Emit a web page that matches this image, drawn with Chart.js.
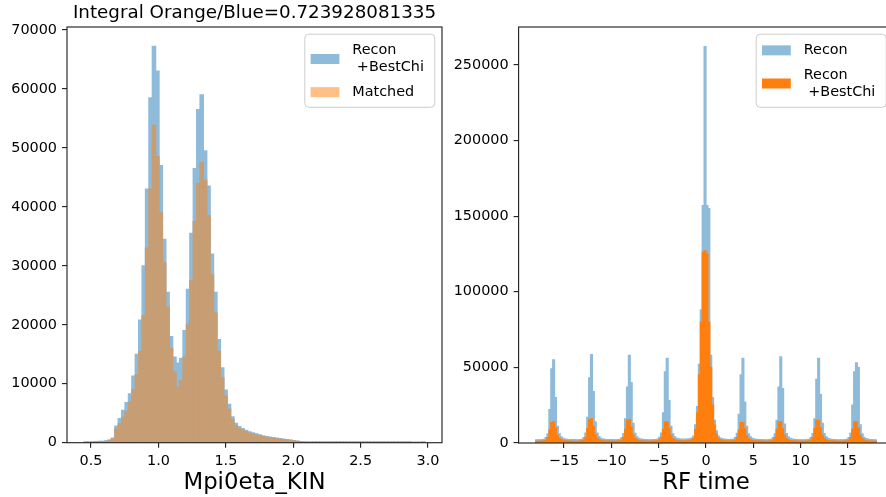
<!DOCTYPE html>
<html><head><meta charset="utf-8">
<script src="https://cdn.jsdelivr.net/npm/chart.js@4.4.1/dist/chart.umd.min.js"></script>
<style>
html,body{margin:0;padding:0;background:#fff;overflow:hidden;width:886px;height:497px;}
#w1{position:absolute;left:0;top:0;width:450px;height:497px;}
#w2{position:absolute;left:450px;top:0;width:450px;height:497px;}
</style></head><body>
<div id="w1"><canvas id="c1" width="450" height="497"></canvas></div>
<div id="w2"><canvas id="c2" width="450" height="497"></canvas></div>
<script>
// ---------- Left panel: Mpi0eta_KIN histogram (100 bins) ----------
const massBinStart = 0.448;
const massBinWidth = 0.0253;
const massRecon = [
  40, 60, 150, 200, 220, 250, 300, 450, 800, 2800,
  4100, 5500, 6800, 8300, 11300, 15000, 20800, 30000, 43000, 58500,
  67200, 63000, 47000, 34500, 25500, 18000, 14500, 13500, 14300, 19000,
  26000, 35500, 46500, 56500, 59000, 49500, 43500, 32000, 25500, 17500,
  12700, 8900, 6500, 4400, 3300, 2750, 2400, 2100, 1850, 1650,
  1480, 1320, 1180, 1050, 950, 850, 760, 680, 600, 520,
  440, 360, 280, 200, 140, 90, 60, 40, 30, 20,
  18, 15, 12, 10, 9, 8, 7, 6, 5, 5,
  4, 4, 3, 3, 3, 2, 2, 2, 2, 2,
  1, 1, 1, 1, 1, 1, 1, 1, 1, 1
];
const massMatched = [
  30, 50, 120, 160, 180, 200, 240, 380, 650, 2300,
  3200, 4300, 5300, 6900, 9000, 11500, 15500, 21500, 33000, 43000,
  53800, 48500, 39000, 30500, 23000, 16000, 12000, 9400, 10500, 14500,
  20000, 27500, 37500, 44000, 47500, 44500, 38500, 28500, 22000, 15500,
  11000, 7900, 5700, 3900, 2900, 2400, 2100, 1850, 1620, 1450,
  1300, 1160, 1040, 930, 830, 750, 670, 600, 530, 460,
  390, 320, 250, 180, 120, 80, 50, 35, 25, 18,
  15, 12, 10, 8, 7, 6, 5, 5, 4, 4,
  3, 3, 2, 2, 2, 2, 1, 1, 1, 1,
  1, 1, 1, 1, 1, 1, 0, 0, 0, 1
];
const massTicksX = [0.5, 1.0, 1.5, 2.0, 2.5, 3.0];
const massTicksY = [0, 10000, 20000, 30000, 40000, 50000, 60000, 70000];
const massLabels = ['Recon\n +BestChi', 'Matched'];
const massTitle = 'Integral Orange/Blue=0.723928081335';
const massXLabel = 'Mpi0eta_KIN';

// ---------- Right panel: RF time histogram (0.2 ns bins, -18..18) ----------
const rfBinStart = -18;
const rfBinWidth = 0.2;
const rfRecon = [
  2000,2100,2050,2200,2400, 3500,6000,22000,49000,55000, 30000,11000,6000,4000,3000, 2600,2400,2300,2200,2200,
  2200,2150,2100,2250,2450, 3600,6500,17000,43000,58500, 34000,14000,6500,4200,3100, 2600,2400,2300,2250,2200,
  2200,2100,2150,2200,2400, 3500,6200,16000,37000,58000, 40000,13000,6300,4100,3000, 2600,2450,2300,2200,2150,
  2150,2200,2250,2300,2500, 3700,6500,20000,47000,56000, 28000,11000,6000,4000,3000, 2700,2500,2400,2400,2500,
  2600,2800,3200,4500,12000, 24000,52000,88000,157000,262000, 157000,155000,58000,30000,15000, 8000,4500,3200,2800,2600,
  2400,2300,2300,2350,2450, 3600,6300,19000,45000,56000, 27000,11000,6000,4000,3000, 2600,2400,2300,2200,2200,
  2150,2100,2150,2200,2400, 3500,6000,15000,37000,57000, 36000,12500,6200,4000,3000, 2600,2400,2300,2200,2150,
  2150,2100,2100,2200,2400, 3500,6200,16000,42000,56000, 32000,13000,6200,4000,3000, 2600,2400,2300,2200,2100,
  2100,2100,2100,2200,2400, 3500,6300,25000,47000,53000, 50000,12000,6000,3800,2900, 2500,2300,2200,2100,2000
];
const rfBestChi = [
  1100,1150,1100,1200,1300, 1800,3500,8500,13500,14000, 10000,5000,3000,2200,1600, 1400,1300,1250,1200,1150,
  1150,1100,1150,1200,1350, 1900,3800,9500,15500,16000, 11000,5500,3200,2300,1700, 1400,1300,1250,1200,1150,
  1150,1150,1100,1200,1300, 1900,3700,9000,15000,15500, 10500,5200,3100,2200,1600, 1400,1300,1250,1200,1150,
  1150,1200,1200,1250,1400, 2000,3800,9000,14000,14000, 9500,5000,3000,2200,1700, 1500,1400,1350,1400,1500,
  1500,1700,2000,3000,9000, 20000,45000,80000,126000,127000, 125000,80000,50000,25000,12000, 6000,3000,2000,1700,1500,
  1400,1300,1300,1300,1400, 1900,3600,8500,13500,13500, 9500,4800,2900,2100,1600, 1400,1300,1250,1200,1200,
  1150,1150,1150,1200,1300, 1900,3600,9000,14000,14000, 9500,5000,3000,2100,1600, 1400,1300,1250,1200,1150,
  1150,1100,1100,1200,1300, 1900,3700,9500,15000,15000, 10000,5200,3000,2100,1600, 1400,1300,1250,1200,1150,
  1100,1100,1100,1200,1300, 1900,3600,9000,14000,14000, 10000,5000,2900,2000,1500, 1300,1200,1150,1100,1050
];
const rfTicksX = [-15, -10, -5, 0, 5, 10, 15];
const rfTicksY = [0, 50000, 100000, 150000, 200000, 250000];
const rfLabels = ['Recon', 'Recon\n +BestChi'];
const rfXLabel = 'RF time';

// ---------- colours (matplotlib C0/C1, alpha 0.5 flattened on white) ----------
const FONT = '"DejaVu Sans", "Liberation Sans", sans-serif';
const BLUE_HALF = 'rgb(143,187,218)';       // C0 at alpha 0.5 on white
const ORANGE_HALF = 'rgb(255,191,135)';     // C1 at alpha 0.5 on white
const ORANGE_ON_BLUE = 'rgb(199,157,116)';  // C1 alpha 0.5 over C0 alpha 0.5
const ORANGE = 'rgb(255,127,14)';

function histDataset(label, start, width, counts, color, legendColor, order) {
  return {
    label, legendColor, order,
    data: counts.map((c, i) => ({x: start + (i + 0.5) * width, y: c})),
    backgroundColor: color, borderWidth: 0, grouped: false,
    barPercentage: 1, categoryPercentage: 1, inflateAmount: 0.6
  };
}
function tickSetter(list) { return s => { s.ticks = list.map(v => ({value: v})); }; }

const mplDecor = {
  id: 'mplDecor',
  afterDraw(chart) {
    const {ctx, chartArea: a} = chart;
    ctx.save();
    ctx.strokeStyle = '#262626'; ctx.lineWidth = 1.15;
    ctx.strokeRect(a.left, a.top, a.right - a.left, a.bottom - a.top);
    const lh = 17.3, w = 130, padT = 7.5, padB = 6.5, gap = 7.2;
    const items = chart.data.datasets.map(d => ({lines: d.label.split('\n'), color: d.legendColor}));
    let h = padT + padB;
    items.forEach((it, i) => { h += it.lines.length * lh + (i ? gap : 0); });
    const x0 = a.right - 7.2 - w, y0 = a.top + 7.2;
    ctx.beginPath();
    ctx.roundRect(x0, y0, w, h, 4);
    ctx.fillStyle = 'rgba(255,255,255,0.8)'; ctx.fill();
    ctx.strokeStyle = '#cccccc'; ctx.lineWidth = 1; ctx.stroke();
    ctx.font = '14.4px ' + FONT; ctx.textBaseline = 'middle'; ctx.textAlign = 'left';
    let y = y0 + padT;
    items.forEach((it, i) => {
      if (i) y += gap;
      const eh = it.lines.length * lh;
      ctx.fillStyle = it.color;
      ctx.fillRect(x0 + 5.8, y + eh / 2 - 5, 28.8, 10);
      ctx.fillStyle = '#000';
      it.lines.forEach((t, j) => ctx.fillText(t, x0 + 47.5, y + lh * (j + 0.5)));
      y += eh;
    });
    ctx.restore();
  }
};

function axis(min, max, ticks, fmt, extra) {
  return Object.assign({
    type: 'linear', min, max, offset: false,
    afterBuildTicks: tickSetter(ticks),
    ticks: {callback: fmt, font: {family: FONT, size: 14.4}, color: '#000', padding: 5, maxRotation: 0, autoSkip: false},
    grid: {drawOnChartArea: false, drawTicks: true, tickLength: 5, color: '#262626', lineWidth: 1.15, offset: false},
    border: {display: false}
  }, extra);
}
function xTitle(text) {
  return {display: true, text, color: '#000', font: {family: FONT, size: 22.8, lineHeight: 1.2}, padding: {top: 0, bottom: 0}};
}
const minus = v => (v < 0 ? '\u2212' + Math.abs(v) : String(v));

new Chart(document.getElementById('c1'), {
  type: 'bar',
  data: {datasets: [
    histDataset(massLabels[0], massBinStart, massBinWidth, massRecon, BLUE_HALF, BLUE_HALF, 2),
    histDataset(massLabels[1], massBinStart, massBinWidth, massMatched, ORANGE_ON_BLUE, ORANGE_HALF, 1)
  ]},
  options: {
    responsive: false, animation: false, events: [],
    layout: {padding: {left: 0, right: 8, top: 0, bottom: 0}},
    scales: {
      x: axis(0.3215, 3.1035, massTicksX, v => v.toFixed(1), {title: xTitle(massXLabel), afterFit: s => { s.height = 54.3; }}),
      y: axis(0, 70500, massTicksY, v => String(v), {afterFit: s => { s.width = 67; }})
    },
    plugins: {
      legend: {display: false}, tooltip: {enabled: false},
      title: {display: true, text: massTitle, fullSize: false, color: '#000',
        font: {family: FONT, size: 18.3, weight: 'normal', lineHeight: 1}, padding: {top: 4, bottom: 4.7}}
    }
  },
  plugins: [mplDecor]
});

new Chart(document.getElementById('c2'), {
  type: 'bar',
  data: {datasets: [
    histDataset(rfLabels[0], rfBinStart, rfBinWidth, rfRecon, BLUE_HALF, BLUE_HALF, 2),
    histDataset(rfLabels[1], rfBinStart, rfBinWidth, rfBestChi, ORANGE, ORANGE, 1)
  ]},
  options: {
    responsive: false, animation: false, events: [],
    layout: {padding: {left: 0, right: 6.6, top: 27, bottom: 0}},
    scales: {
      x: axis(-19.8, 19.8, rfTicksX, minus, {title: xTitle(rfXLabel), afterFit: s => { s.height = 54; }}),
      y: axis(0, 275000, rfTicksY, v => String(v), {afterFit: s => { s.width = 68.6; }})
    },
    plugins: {legend: {display: false}, tooltip: {enabled: false}}
  },
  plugins: [mplDecor]
});
</script>
</body></html>
